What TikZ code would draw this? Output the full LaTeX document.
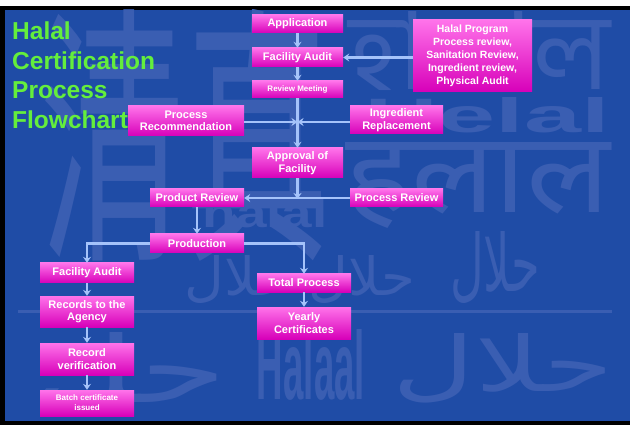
\documentclass[tikz,border=0pt]{standalone}
\usepackage{fontspec}
\setmainfont{Liberation Sans}
\newfontfamily\cjkf{Noto Sans CJK SC}
\newfontfamily\bengf[Script=Bengali]{Hind Siliguri}
\newfontfamily\devf[Script=Devanagari]{Noto Sans}
\newfontfamily\arabf[Script=Arabic]{DejaVu Sans}
\TeXXeTstate=1
\usetikzlibrary{arrows.meta}
\definecolor{bgblue}{RGB}{31,76,166}
\definecolor{wmblue}{RGB}{58,94,178}
\definecolor{pkTop}{RGB}{255,115,234}
\definecolor{pkMid}{RGB}{246,16,212}
\definecolor{pkBot}{RGB}{215,0,185}
\definecolor{arrblue}{RGB}{165,195,250}
\definecolor{titlegreen}{RGB}{100,238,60}
\tikzset{
  box/.style={rectangle, top color=pkTop, middle color=pkMid, bottom color=pkBot,
    draw=none, text=white, align=center, inner sep=0pt,
    font=\bfseries\fontsize{11}{12.5}\selectfont},
  smallbox/.style={box, font=\bfseries\fontsize{8}{10}\selectfont},
  arr/.style={draw=arrblue, line width=2.4pt, -{Stealth[length=6pt,width=8pt]}},
  wm/.style={text=wmblue, inner sep=0pt}
}
\begin{document}
\begin{tikzpicture}[x=1pt,y=-1pt]
\useasboundingbox (0,0) rectangle (630,425);
\fill[white] (0,0) rectangle (630,425);
\fill[black] (0,6) rectangle (630,425);
\fill[bgblue] (5,10) rectangle (630,421);
% watermarks
\begin{scope}
\clip (5,10) rectangle (630,421);
\node[wm] (w1) at (185,135) {\resizebox{290pt}{230pt}{\cjkf 清真}};
\node[wm] (w2) at (480,51) {\resizebox{260pt}{78pt}{\bengf হালাল}};
\node[wm] (w3) at (487,115) {\resizebox{245pt}{35pt}{\bfseries Helal}};
\node[wm] (w4) at (478,185) {\resizebox{265pt}{70pt}{\devf हलाल}};
\node[wm] (w5) at (265,213) {\resizebox{125pt}{30pt}{\bfseries halal}};
\node[wm] (w6) at (495,268) {\resizebox{90pt}{60pt}{\arabf\beginR حلال\endR}};
\node[wm] (w7) at (300,280) {\resizebox{230pt}{40pt}{\arabf\beginR حلال حلال\endR}};
\node[wm] (w8) at (311,365) {\resizebox{108pt}{70pt}{\bfseries Halaal}};
\node[wm] (w9) at (503,368) {\resizebox{220pt}{58pt}{\arabf\beginR حلال\endR}};
\node[wm] (w10) at (130,375) {\resizebox{195pt}{70pt}{\arabf\beginR حل\endR}};
\coordinate (hl1) at (18,311);
\coordinate (hl2) at (612,311);
\draw[wmblue, line width=3pt] (hl1) -- (hl2);
\end{scope}
% title
\node[text=titlegreen, anchor=north west, align=left, inner sep=0pt,
  font=\bfseries\fontsize{24.5}{29.5}\selectfont] (title) at (12,22)
  {Halal\\Certification\\Process\\Flowchart};
% boxes
\node[box, minimum width=91pt, minimum height=18pt] (app) at (297.5,24) {Application};
\node[box, minimum width=91pt, minimum height=19pt] (fa1) at (297.5,57.5) {Facility Audit};
\node[smallbox, minimum width=91pt, minimum height=17pt] (rm) at (297.5,89.5) {Review Meeting};
\node[box, minimum width=119pt, minimum height=72pt, font=\bfseries\fontsize{10.5}{13}\selectfont] (hp) at (472.5,56)
  {Halal Program\\Process review,\\Sanitation Review,\\Ingredient review,\\Physical Audit};
\node[box, minimum width=116pt, minimum height=30pt] (pr) at (186,121) {Process\\Recommendation};
\node[box, minimum width=93pt, minimum height=28pt] (ir) at (396.5,120) {Ingredient\\Replacement};
\node[box, minimum width=91pt, minimum height=30pt] (ap) at (297.5,163) {Approval of\\Facility};
\node[box, minimum width=94pt, minimum height=18pt] (prv) at (197,198) {Product Review};
\node[box, minimum width=93pt, minimum height=18pt] (psr) at (396.5,198) {Process Review};
\node[box, minimum width=94pt, minimum height=19pt] (prod) at (197,243.5) {Production};
\node[box, minimum width=94pt, minimum height=20pt] (fa2) at (87,273) {Facility Audit};
\node[box, minimum width=94pt, minimum height=31pt] (rec) at (87,311.5) {Records to the\\Agency};
\node[box, minimum width=94pt, minimum height=32pt] (rv) at (87,359) {Record\\verification};
\node[smallbox, minimum width=94pt, minimum height=26pt] (bc) at (87,403) {Batch certificate\\issued};
\node[box, minimum width=94pt, minimum height=18pt] (tp) at (304,283) {Total Process};
\node[box, minimum width=94pt, minimum height=32pt] (yc) at (304,323) {Yearly\\Certificates};
% connectors
\draw[arr] (app) -- (fa1);
\draw[arr] (fa1) -- (rm);
\draw[arr] (rm) -- (ap);
\draw[arr] (hp.west |- fa1.east) -- (fa1.east);
\coordinate (j1) at (297.5,122);
\draw[arr] (pr.east |- j1) -- (j1);
\draw[arr] (ir.west |- j1) -- (j1);
\coordinate (j2) at (297.5,199);
\draw[arr] (ap) -- (j2);
\draw[arr] (psr) -- (prv);
\draw[arr] (prv) -- (prod);
\draw[arr] (prod.west) -| (fa2.north);
\draw[arr] (prod.east) -| (tp.north);
\draw[arr] (fa2) -- (rec);
\draw[arr] (rec) -- (rv);
\draw[arr] (rv) -- (bc);
\draw[arr] (tp) -- (yc);
\end{tikzpicture}
\end{document}
